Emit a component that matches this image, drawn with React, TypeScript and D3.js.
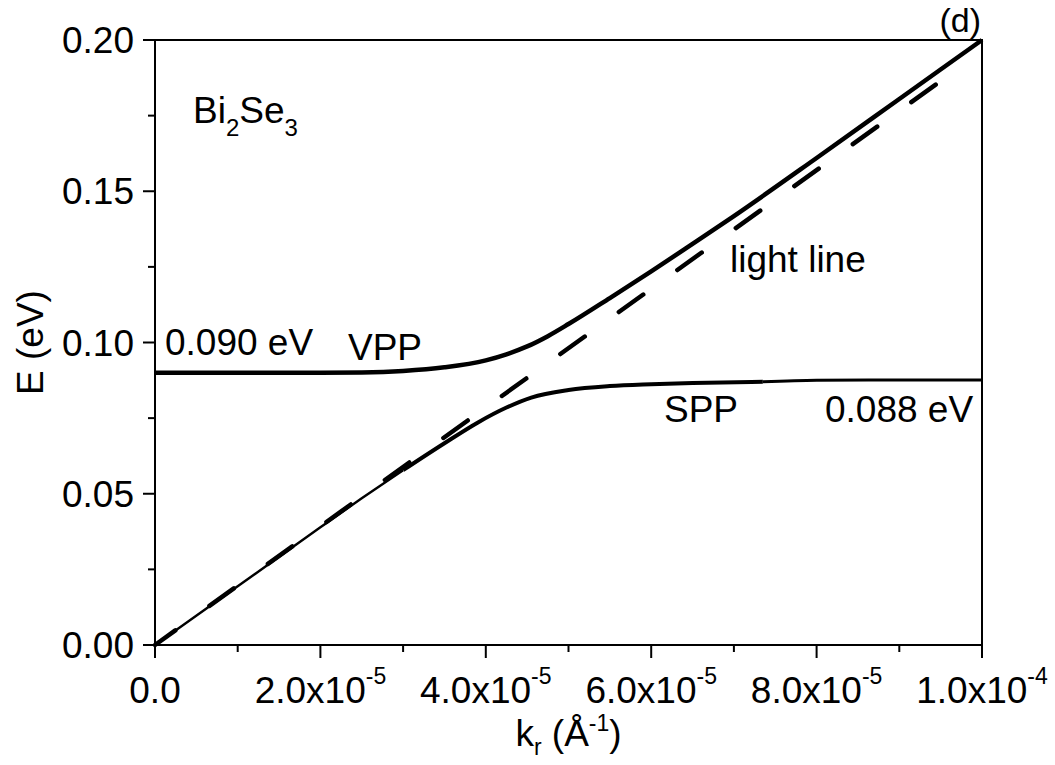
import React from "react";
import * as d3 from "d3";

// ---------- data (k in Å^-1, E in eV) ----------
const vppK = [0, 1e-5, 2e-5, 2.5e-5, 3.0e-5, 3.5e-5, 4.0e-5, 4.25e-5, 4.5e-5, 4.75e-5, 5.0e-5, 5.5e-5, 6.0e-5, 6.5e-5, 7.0e-5, 8.0e-5, 9.0e-5, 1.0e-4];
const vppE = [0.09, 0.09, 0.09, 0.0901, 0.0906, 0.0918, 0.0941, 0.0961, 0.0987, 0.1021, 0.1061, 0.1147, 0.1235, 0.1326, 0.1418, 0.161, 0.1805, 0.2];

const sppK = [0, 1e-5, 2e-5, 2.5e-5, 3.0e-5, 3.5e-5, 3.9e-5, 4.25e-5, 4.55e-5, 5.0e-5, 5.5e-5, 6.0e-5, 6.5e-5, 7.35e-5, 8.0e-5, 9.0e-5, 1.0e-4];
const sppE = [0, 0.0194, 0.0389, 0.0485, 0.0578, 0.0667, 0.0735, 0.0785, 0.0818, 0.0843, 0.0856, 0.0862, 0.0866, 0.087, 0.0875, 0.0876, 0.0876];

const lightK = [0, 9.6e-5];
const lightE = [0, 0.1884];

const xTicks = [0, 2e-5, 4e-5, 6e-5, 8e-5, 1e-4];
const xTickMantissa = ["0.0", "2.0", "4.0", "6.0", "8.0", "1.0"];
const xTickExponent = ["", "-5", "-5", "-5", "-5", "-4"];
const xMinorTicks = [1e-5, 3e-5, 5e-5, 7e-5, 9e-5];

const yTicks = [0, 0.05, 0.1, 0.15, 0.2];
const yTickLabels = ["0.00", "0.05", "0.10", "0.15", "0.20"];
const yMinorTicks = [0.025, 0.075, 0.125, 0.175];

const FONT = "'Liberation Sans', Arial, sans-serif";

export default function App() {
  const W = 1055, H = 765;
  const left = 155, right = 982, top = 40, bottom = 645;
  const x = d3.scaleLinear().domain([0, 1e-4]).range([left, right]);
  const y = d3.scaleLinear().domain([0, 0.2]).range([bottom, top]);

  const pts = (ks: number[], es: number[]) => ks.map((k, i) => [k, es[i]] as [number, number]);
  const line = d3
    .line<[number, number]>()
    .x((d) => x(d[0]))
    .y((d) => y(d[1]))
    .curve(d3.curveMonotoneX);

  const vpp = pts(vppK, vppE);
  const spp = pts(sppK, sppE);
  const light = pts(lightK, lightE);

  const sppA = spp.filter((d) => d[0] <= 3.0e-5);
  const sppB = spp.filter((d) => d[0] >= 3.0e-5 && d[0] <= 7.35e-5);
  const sppC = spp.filter((d) => d[0] >= 7.35e-5);

  const fs = 37;

  return (
    <svg
      width={W}
      height={H}
      viewBox={`0 0 ${W} ${H}`}
      style={{ position: "absolute", left: 0, top: 0, background: "#fff", display: "block" }}
      fontFamily={FONT}
    >
      <rect x={0} y={0} width={W} height={H} fill="#fff" />

      {/* light line */}
      <path
        d={line(light) || ""}
        fill="none"
        stroke="#000"
        strokeWidth={4.5}
        strokeDasharray="30,42"
        strokeDashoffset={5}
        strokeLinecap="round"
      />

      {/* SPP */}
      <path d={line(sppA) || ""} fill="none" stroke="#000" strokeWidth={2.4} />
      <path d={line(sppB) || ""} fill="none" stroke="#000" strokeWidth={4} />
      <path d={line(sppC) || ""} fill="none" stroke="#000" strokeWidth={3} />

      {/* VPP */}
      <path d={line(vpp) || ""} fill="none" stroke="#000" strokeWidth={4.5} />

      {/* frame */}
      <rect x={left} y={top} width={right - left} height={bottom - top} fill="none" stroke="#000" strokeWidth={2} />

      {/* x ticks */}
      {xTicks.map((t, i) => (
        <g key={"xt" + i}>
          <line x1={x(t)} x2={x(t)} y1={bottom} y2={bottom + 13} stroke="#000" strokeWidth={2} />
          <text x={x(t)} y={703} textAnchor="middle" fontSize={fs} fill="#000">
            <tspan>{xTickMantissa[i] + (xTickExponent[i] ? "x10" : "")}</tspan>
            {xTickExponent[i] ? (
              <tspan fontSize={23} dy={-19}>
                {xTickExponent[i]}
              </tspan>
            ) : null}
          </text>
        </g>
      ))}
      {xMinorTicks.map((t, i) => (
        <line key={"xm" + i} x1={x(t)} x2={x(t)} y1={bottom} y2={bottom + 7} stroke="#000" strokeWidth={2} />
      ))}

      {/* y ticks */}
      {yTicks.map((t, i) => (
        <g key={"yt" + i}>
          <line x1={left - 12} x2={left} y1={y(t)} y2={y(t)} stroke="#000" strokeWidth={2} />
          <text x={134} y={y(t) + 13} textAnchor="end" fontSize={fs} fill="#000">
            {yTickLabels[i]}
          </text>
        </g>
      ))}
      {yMinorTicks.map((t, i) => (
        <line key={"ym" + i} x1={left - 7} x2={left} y1={y(t)} y2={y(t)} stroke="#000" strokeWidth={2} />
      ))}

      {/* axis titles */}
      <text
        transform={`translate(43, ${(top + bottom) / 2}) rotate(-90)`}
        textAnchor="middle"
        fontSize={fs}
        fill="#000"
      >
        E (eV)
      </text>
      <text x={(left + right) / 2} y={746} textAnchor="middle" fontSize={fs} fill="#000">
        <tspan>k</tspan>
        <tspan fontSize={23} dy={9}>r</tspan>
        <tspan dy={-9}> (Å</tspan>
        <tspan fontSize={23} dy={-15}>-1</tspan>
        <tspan dy={15}>)</tspan>
      </text>

      {/* annotations */}
      <text x={193} y={123} fontSize={fs} fill="#000">
        <tspan>Bi</tspan>
        <tspan fontSize={24} dy={13}>2</tspan>
        <tspan dy={-13}>Se</tspan>
        <tspan fontSize={24} dy={13}>3</tspan>
      </text>
      <text x={981} y={32} textAnchor="end" fontSize={34} fill="#000">
        (d)
      </text>
      <text x={165} y={355} fontSize={fs} fill="#000">
        0.090 eV
      </text>
      <text x={348} y={360} fontSize={fs} fill="#000">
        VPP
      </text>
      <text x={730} y={272} fontSize={fs} fill="#000">
        light line
      </text>
      <text x={664} y={422} fontSize={fs} fill="#000">
        SPP
      </text>
      <text x={825} y={422} fontSize={fs} fill="#000">
        0.088 eV
      </text>
    </svg>
  );
}
